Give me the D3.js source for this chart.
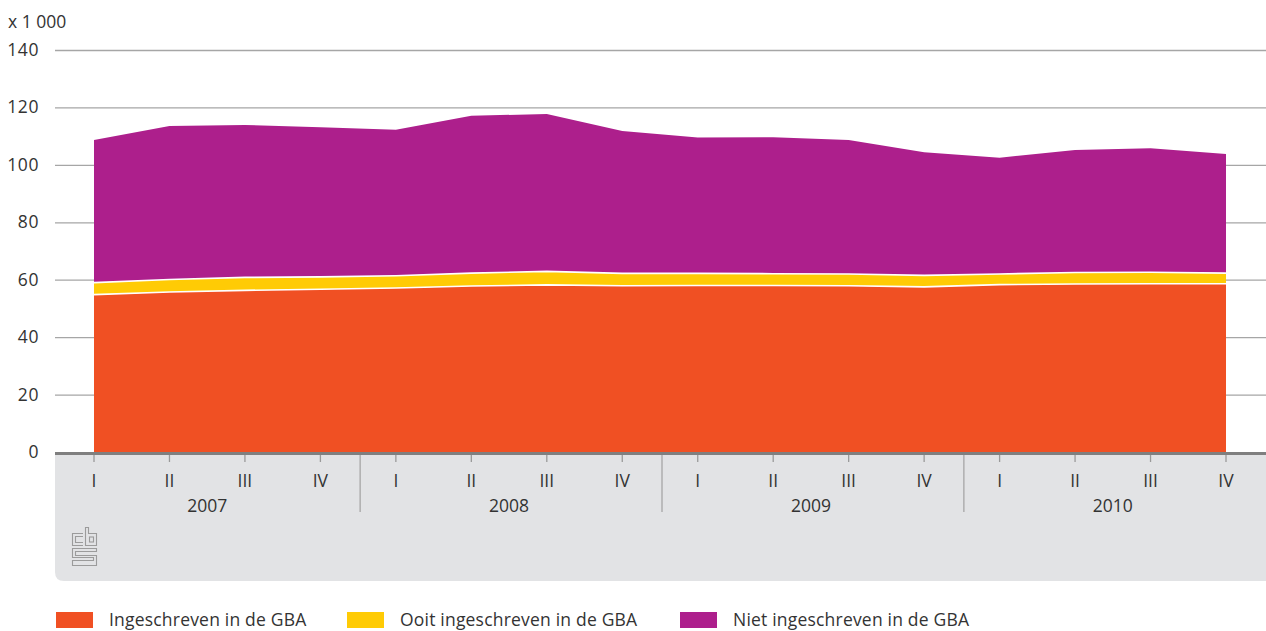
<!DOCTYPE html>
<html>
<head>
<meta charset="utf-8">
<script src="https://cdn.jsdelivr.net/npm/d3@7"></script>
<style>
  body { margin: 0; background: #fff; }
  text { font-family: "Open Sans", sans-serif; fill: #333; }
</style>
</head>
<body>
<div id="chart"></div>
<script>
var width = 1266;
var height = 631;

var quarters = ["I", "II", "III", "IV"];
var years = ["2007", "2008", "2009", "2010"];
var yTicks = [0, 20, 40, 60, 80, 100, 120, 140];

// x 1 000
var ingeschreven = [54.8, 55.7, 56.3, 56.7, 57.1, 57.8, 58.2, 57.9, 58.0, 58.0, 57.9, 57.5, 58.3, 58.5, 58.6, 58.6];
var ooitIngeschreven = [4.2, 4.4, 4.5, 4.3, 4.3, 4.5, 4.7, 4.3, 4.2, 4.1, 4.1, 4.0, 3.7, 4.0, 4.0, 3.7];
var nietIngeschreven = [49.7, 53.4, 53.1, 52.1, 50.8, 54.8, 54.8, 49.6, 47.3, 47.5, 46.7, 42.9, 40.5, 42.7, 43.2, 41.5];

var seriesNames = ["Ingeschreven in de GBA", "Ooit ingeschreven in de GBA", "Niet ingeschreven in de GBA"];
var colors = ["#f05023", "#ffcb05", "#ad1f8c"];

var keys = [];
var rows = [];
years.forEach(function (y) {
  quarters.forEach(function (q) {
    keys.push(y + "-" + q);
  });
});
keys.forEach(function (k, i) {
  rows.push({ key: k, a: ingeschreven[i], b: ooitIngeschreven[i], c: nietIngeschreven[i] });
});

var left = 55;
var plotTop = 50;
var plotBottom = 452;
var fs = "17.5px";

var svg = d3
  .select("#chart")
  .append("svg")
  .attr("width", width)
  .attr("height", height);

var x = d3.scalePoint().domain(keys).range([94, 1226]);
var y = d3.scaleLinear().domain([0, 140]).range([plotBottom, plotTop]);

// grey panel under the x axis
var pr = 9;
svg
  .append("path")
  .attr(
    "d",
    "M" + left + "," + plotBottom +
      "H" + width +
      "V581" +
      "H" + (left + pr) +
      "Q" + left + ",581 " + left + "," + (581 - pr) +
      "Z"
  )
  .attr("fill", "#e2e3e5");

// gridlines
svg
  .append("g")
  .selectAll("line")
  .data(yTicks.filter(function (d) { return d > 0; }))
  .enter()
  .append("line")
  .attr("x1", left)
  .attr("x2", width)
  .attr("y1", function (d) { return y(d) + 0.5; })
  .attr("y2", function (d) { return y(d) + 0.5; })
  .attr("stroke", "#a6a6a6")
  .attr("stroke-width", 1.3);

// y labels
svg
  .append("g")
  .selectAll("text")
  .data(yTicks)
  .enter()
  .append("text")
  .attr("x", 39)
  .attr("y", function (d) { return y(d) + 6; })
  .attr("text-anchor", "end")
  .style("font-size", fs)
  .style("letter-spacing", "0.6px")
  .text(function (d) { return d; });

svg
  .append("text")
  .attr("x", 8)
  .attr("y", 28)
  .style("font-size", fs)
  .text("x 1 000");

// stacked areas
var stack = d3.stack().keys(["a", "b", "c"]);
var layers = stack(rows);

var area = d3
  .area()
  .x(function (d) { return x(d.data.key); })
  .y0(function (d) { return y(d[0]); })
  .y1(function (d) { return y(d[1]); });

svg
  .append("g")
  .selectAll("path")
  .data(layers)
  .enter()
  .append("path")
  .attr("d", area)
  .attr("fill", function (d, i) { return colors[i]; });

// white separators between layers
var sepLine = d3
  .line()
  .x(function (d) { return x(d.data.key); })
  .y(function (d) { return y(d[1]); });

svg
  .append("g")
  .selectAll("path")
  .data(layers.slice(0, 2))
  .enter()
  .append("path")
  .attr("d", sepLine)
  .attr("fill", "none")
  .attr("stroke", "#fff")
  .attr("stroke-width", 1.6);

// axis line
svg
  .append("rect")
  .attr("x", left)
  .attr("y", plotBottom)
  .attr("width", width - left)
  .attr("height", 3)
  .attr("fill", "#7f7f7f");

// quarter ticks and labels
var xAxis = svg.append("g");
xAxis
  .selectAll("line")
  .data(keys)
  .enter()
  .append("line")
  .attr("x1", function (d) { return x(d); })
  .attr("x2", function (d) { return x(d); })
  .attr("y1", 455)
  .attr("y2", 462)
  .attr("stroke", "#9a9a9a")
  .attr("stroke-width", 1.3);

xAxis
  .selectAll("text")
  .data(keys)
  .enter()
  .append("text")
  .attr("x", function (d) { return x(d); })
  .attr("y", 487)
  .attr("text-anchor", "middle")
  .style("font-size", fs)
  .text(function (d) { return d.split("-")[1]; });

// year labels
svg
  .append("g")
  .selectAll("text")
  .data(years)
  .enter()
  .append("text")
  .attr("x", function (d) { return (x(d + "-I") + x(d + "-IV")) / 2; })
  .attr("y", 512)
  .attr("text-anchor", "middle")
  .style("font-size", fs)
  .text(function (d) { return d; });

// year dividers
svg
  .append("g")
  .selectAll("line")
  .data(years.slice(1))
  .enter()
  .append("line")
  .attr("x1", function (d, i) { return (x(years[i] + "-IV") + x(d + "-I")) / 2 + 2; })
  .attr("x2", function (d, i) { return (x(years[i] + "-IV") + x(d + "-I")) / 2 + 2; })
  .attr("y1", 455)
  .attr("y2", 512)
  .attr("stroke", "#a6a6a6")
  .attr("stroke-width", 1.3);

// cbs logo
var logo = svg
  .append("g")
  .attr("transform", "translate(72,527)")
  .attr("fill", "none")
  .attr("stroke", "#9b9b9b")
  .attr("stroke-width", 1.1);
// c
logo.append("path").attr("d", "M11,6.5 H0.5 V18.5 H11 M11,9.5 H3.5 V15.5 H11");
// b
logo.append("path").attr("d", "M13.5,0.5 V18.5 H24.5 V6.5 H16.5 V0.5 Z");
logo.append("rect").attr("x", 17.5).attr("y", 10).attr("width", 4).attr("height", 5);
// s
logo
  .append("path")
  .attr(
    "d",
    "M24.5,21.5 H0.5 V30.5 H21.5 V33.5 H0.5 V38.5 H24.5 V28.5 H3.5 V24.5 H24.5 Z"
  );

// legend
var legend = svg
  .append("g")
  .selectAll("g")
  .data(seriesNames)
  .enter()
  .append("g")
  .attr("transform", function (d, i) {
    return "translate(" + [56, 347, 680][i] + ",612)";
  });

legend
  .append("rect")
  .attr("width", 37)
  .attr("height", 16)
  .attr("fill", function (d, i) { return colors[i]; });

legend
  .append("text")
  .attr("x", 53)
  .attr("y", 14)
  .style("font-size", fs)
  .style("letter-spacing", "0.2px")
  .text(function (d) { return d; });
</script>
</body>
</html>
